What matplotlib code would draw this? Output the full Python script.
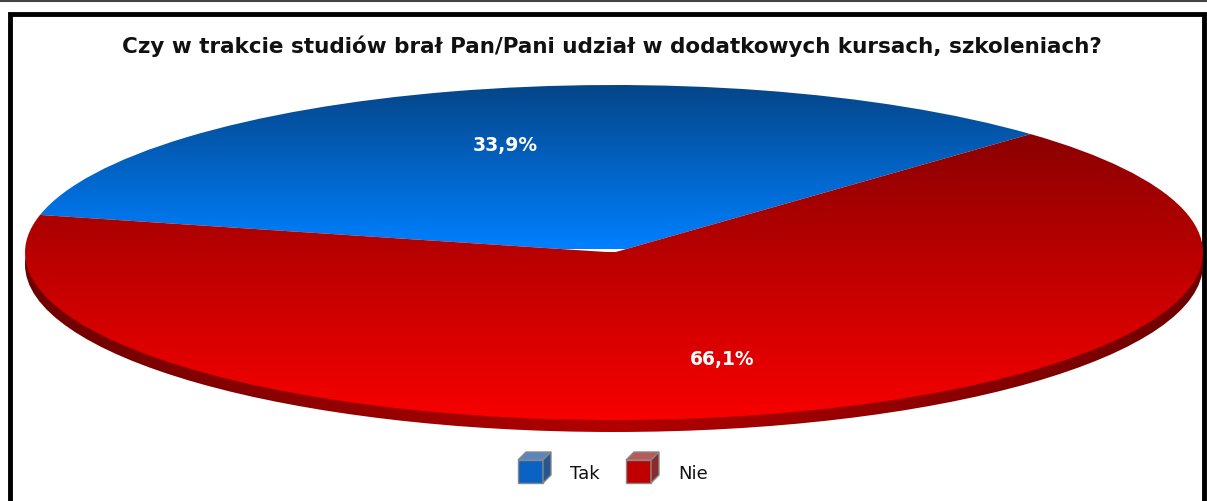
import numpy as np
import matplotlib.pyplot as plt
from matplotlib.colors import LinearSegmentedColormap
from matplotlib.patches import Polygon, Ellipse

# data
labels = ["Tak", "Nie"]
values = [33.9, 66.1]
title = "Czy w trakcie studiów brał Pan/Pani udział w dodatkowych kursach, szkoleniach?"

W, H = 1207, 501
fig = plt.figure(figsize=(W / 100, H / 100), dpi=100)

# overlay in pixel coords for frame + legend
bg = fig.add_axes([0, 0, 1, 1])
bg.set_xlim(0, W)
bg.set_ylim(H, 0)
bg.axis("off")
bg.plot([0, W], [1, 1], color="#444444", lw=1.5)
bg.plot([10, 10, 1204, 1204], [H, 14, 14, H], color="black", lw=3.5, solid_joinstyle="miter")

# pie axes placed on the ellipse bounding box (plus the disc side below it)
x0, x1, ytop, ybot = 25, 1203, 85, 420
dpx = 12
b = (ybot - ytop) / 2
depth = dpx / b
ax = fig.add_axes([x0 / W, (H - ybot - dpx) / H, (x1 - x0) / W, (ybot + dpx - ytop) / H])
ax.axis("off")

# side of the disc, horizontal shading
side = Ellipse((0, -depth), 2, 2, facecolor="none", edgecolor="none")
ax.add_patch(side)
hx = np.abs(np.linspace(-1, 1, 256)).reshape(1, -1)
side_cmap = LinearSegmentedColormap.from_list("s", ["#b20000", "#6e0000"])
sim = ax.imshow(hx, cmap=side_cmap, extent=(-1, 1, -1 - depth, 0), aspect="auto", zorder=0)
sim.set_clip_path(side)


def fmt(p):
    return ("%.1f%%" % p).replace(".", ",")


wedges, texts, autotexts = ax.pie(values, startangle=45, counterclock=True,
                                  autopct=fmt, pctdistance=0.667,
                                  wedgeprops=dict(linewidth=0))
ax.set_aspect("auto")

grads = [(["#0080ff", "#054588"], (-1, 1, 0.02, 1.0)),
         (["#f80000", "#880000"], (-1, 1, -1.0, 0.75))]
g = np.linspace(0, 1, 256).reshape(-1, 1)
for w, (cols, ext) in zip(wedges, grads):
    w.set_facecolor("none")
    cmap = LinearSegmentedColormap.from_list("g", cols)
    im = ax.imshow(g, cmap=cmap, extent=ext, origin="lower", aspect="auto", zorder=1)
    im.set_clip_path(w)
ax.set_xlim(-1, 1)
ax.set_ylim(-1 - depth, 1)

for t in autotexts:
    t.set_color("white")
    t.set_fontweight("bold")
    t.set_fontsize(13.5)
    t.set_family("DejaVu Sans")
    t.set_zorder(5)

fig.text(612 / W, 1 - 46 / H, title, ha="center", va="center",
         fontsize=15.5, fontweight="bold", family="DejaVu Sans", color="#111111")

# legend with cube icons
cube_cols = [("#0a62c4", "#5a85bd", "#28578f"), ("#c00000", "#b85a5a", "#8a2a2a")]
lx = [518, 626]
for (front, top, sd), x, lab in zip(cube_cols, lx, labels):
    s, d = 25, 8
    yb = 483
    yt = yb - s + 2
    bg.add_patch(Polygon([(x, yb), (x + s, yb), (x + s, yt), (x, yt)],
                         facecolor=front, edgecolor="#888888", lw=1))
    bg.add_patch(Polygon([(x, yt), (x + d, yt - d), (x + s + d, yt - d), (x + s, yt)],
                         facecolor=top, edgecolor="#888888", lw=1))
    bg.add_patch(Polygon([(x + s, yb), (x + s + d, yb - d), (x + s + d, yt - d), (x + s, yt)],
                         facecolor=sd, edgecolor="#888888", lw=1))
    bg.text(x + 52, 474, lab, ha="left", va="center", fontsize=13,
            family="DejaVu Sans", color="#111111")

fig.savefig("out.png", dpi=100)
